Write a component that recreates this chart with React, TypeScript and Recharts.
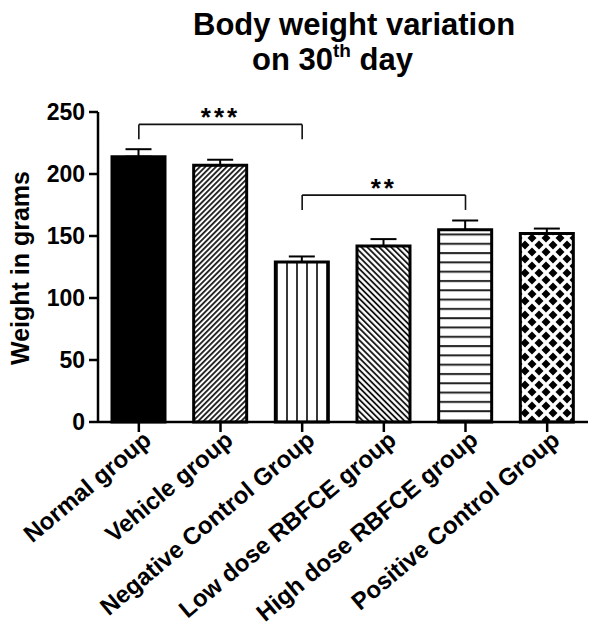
import React from 'react';
import { BarChart, Bar, XAxis, YAxis, Cell, ErrorBar, ReferenceLine } from 'recharts';

const categories = [
  'Normal group',
  'Vehicle group',
  'Negative Control Group',
  'Low dose RBFCE group',
  'High dose RBFCE group',
  'Positive Control Group',
];
const means = [214, 207, 129, 142, 155, 152];
const errors = [6, 4.5, 4.5, 5.5, 7.5, 4];
const yTicks = [0, 50, 100, 150, 200, 250];
const fills = ['#000000', 'url(#pVehicle)', 'url(#pNeg)', 'url(#pLow)', 'url(#pHigh)', 'url(#pPos)'];

const sigA = { from: 'Normal group', to: 'Negative Control Group', top: 240, foot: 228, label: '***' };
const sigB = { from: 'Negative Control Group', to: 'High dose RBFCE group', top: 183, foot: 171, label: '**' };

const data = categories.map((name, i) => ({ name, mean: means[i], err: [0, errors[i]] }));

const FONT = '"Liberation Sans", Arial, Helvetica, sans-serif';

const XTick = (props: any) => {
  const { x, y, payload } = props;
  return (
    <g transform={`translate(${x},${y})`}>
      <text
        x={0}
        y={0}
        transform="rotate(-40)"
        textAnchor="end"
        dx={4}
        dy={17}
        fontFamily={FONT}
        fontWeight="bold"
        fontSize={24}
        fill="#000"
      >
        {payload.value}
      </text>
    </g>
  );
};

const YTick = (props: any) => {
  const { x, y, payload } = props;
  return (
    <text x={x} y={y} dy={8} textAnchor="end" fontFamily={FONT} fontWeight="bold" fontSize={23} fill="#000">
      {payload.value}
    </text>
  );
};

const StarLabel = (props: any) => {
  const { viewBox, value } = props;
  const cx = viewBox.x + viewBox.width / 2;
  return (
    <text x={cx} y={viewBox.y + 2} textAnchor="middle" fontFamily={FONT} fontWeight="bold" fontSize={26} letterSpacing={3} fill="#000">
      {value}
    </text>
  );
};

export default function App() {
  const bracketProps = { stroke: '#111', strokeWidth: 1.6, ifOverflow: 'visible' as const };
  return (
    <div style={{ position: 'absolute', left: 0, top: 0, background: '#fff' }}>
      <BarChart
        width={589}
        height={627}
        data={data}
        margin={{ top: 112, right: 1, bottom: 0, left: 0 }}
        barSize={53}
      >
        <defs>
          <pattern id="pVehicle" patternUnits="userSpaceOnUse" width="3.8" height="10" patternTransform="rotate(45)">
            <rect width="3.8" height="10" fill="#fff" />
            <line x1="0.9" y1="0" x2="0.9" y2="10" stroke="#000" strokeWidth="1.6" />
          </pattern>
          <pattern id="pLow" patternUnits="userSpaceOnUse" width="4.2" height="10" patternTransform="rotate(-45)">
            <rect width="4.2" height="10" fill="#fff" />
            <line x1="1" y1="0" x2="1" y2="10" stroke="#000" strokeWidth="1.7" />
          </pattern>
          <pattern id="pNeg" patternUnits="userSpaceOnUse" width="10" height="10">
            <rect width="10" height="10" fill="#fff" />
            <line x1="7" y1="0" x2="7" y2="10" stroke="#222" strokeWidth="1.8" />
          </pattern>
          <pattern id="pHigh" patternUnits="userSpaceOnUse" width="10" height="9.3">
            <rect width="10" height="9.3" fill="#fff" />
            <line x1="0" y1="2" x2="10" y2="2" stroke="#222" strokeWidth="2" />
          </pattern>
          <pattern id="pPos" patternUnits="userSpaceOnUse" width="14" height="14">
            <rect width="14" height="14" fill="#fff" />
            <polygon points="7,2.5 11.5,7 7,11.5 2.5,7" fill="#000" />
            <polygon points="0,-4.5 4.5,0 0,4.5 -4.5,0" fill="#000" />
            <polygon points="14,-4.5 18.5,0 14,4.5 9.5,0" fill="#000" />
            <polygon points="0,9.5 4.5,14 0,18.5 -4.5,14" fill="#000" />
            <polygon points="14,9.5 18.5,14 14,18.5 9.5,14" fill="#000" />
          </pattern>
        </defs>

        <text x={193} y={35} fontFamily={FONT} fontWeight="bold" fontSize={31} fill="#000">
          Body weight variation
        </text>
        <text x={252} y={70} fontFamily={FONT} fontWeight="bold" fontSize={31} fill="#000">
          on 30
          <tspan dy={-13} fontSize={19}>th</tspan>
          <tspan dy={13}> day</tspan>
        </text>
        <text
          x={29}
          y={268}
          transform="rotate(-90 29 268)"
          textAnchor="middle"
          fontFamily={FONT}
          fontWeight="bold"
          fontSize={25}
          fill="#000"
        >
          Weight in grams
        </text>

        <XAxis
          dataKey="name"
          type="category"
          height={205}
          interval={0}
          tick={<XTick />}
          tickSize={10}
          tickMargin={0}
          axisLine={{ stroke: '#000', strokeWidth: 2.5 }}
          tickLine={{ stroke: '#000', strokeWidth: 2.5 }}
        />
        <YAxis
          type="number"
          domain={[0, 250]}
          ticks={yTicks}
          width={98}
          tick={<YTick />}
          tickSize={9}
          tickMargin={4}
          axisLine={{ stroke: '#000', strokeWidth: 2.5 }}
          tickLine={{ stroke: '#000', strokeWidth: 2.5 }}
        />

        <Bar dataKey="mean" isAnimationActive={false} stroke="#000" strokeWidth={3}>
          {data.map((d, i) => (
            <Cell key={d.name} fill={fills[i]} stroke="#000" strokeWidth={3} />
          ))}
          <ErrorBar dataKey="err" width={13} stroke="#000" strokeWidth={2} direction="y" />
        </Bar>

        {[sigA, sigB].map((s) => (
          <React.Fragment key={s.label}>
            <ReferenceLine
              segment={[{ x: s.from, y: s.top }, { x: s.to, y: s.top }]}
              {...bracketProps}
              label={<StarLabel value={s.label} />}
            />
            <ReferenceLine segment={[{ x: s.from, y: s.top }, { x: s.from, y: s.foot }]} {...bracketProps} />
            <ReferenceLine segment={[{ x: s.to, y: s.top }, { x: s.to, y: s.foot }]} {...bracketProps} />
          </React.Fragment>
        ))}
      </BarChart>
    </div>
  );
}
